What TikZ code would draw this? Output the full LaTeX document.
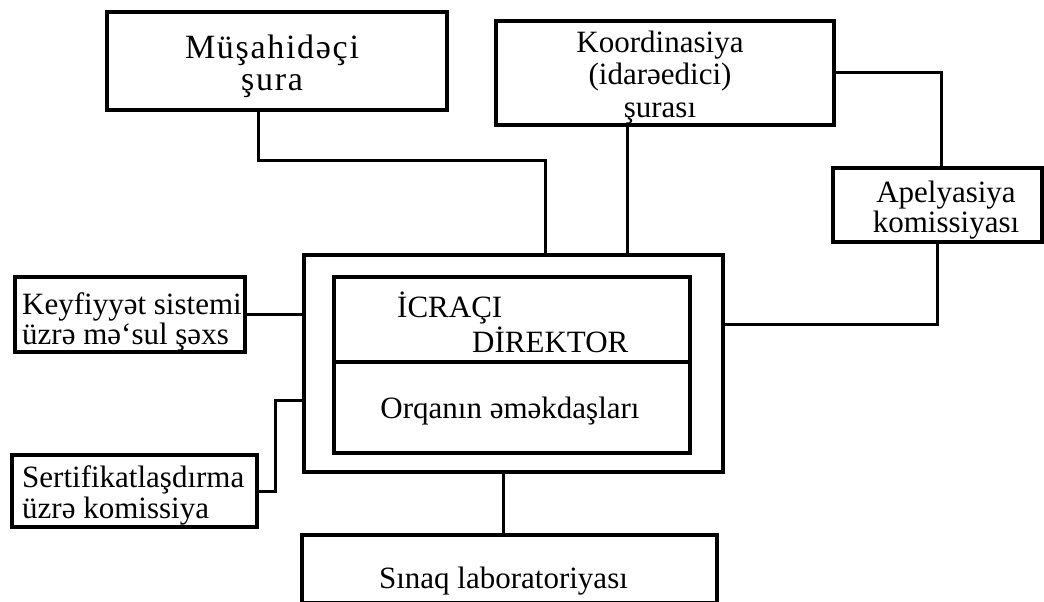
\documentclass[tikz,border=0pt]{standalone}
\usepackage{fontspec}
\setmainfont{Liberation Serif}
\begin{document}
\begin{tikzpicture}[x=1pt,y=-1pt,
  box/.style={draw,line width=3.2pt,rectangle,inner sep=0pt,outer sep=0pt},
  outerbox/.style={draw,line width=4.2pt,rectangle,inner sep=0pt,outer sep=0pt},
  conn/.style={line width=3pt,line join=miter},
  txt/.style={inner sep=0pt,font=\fontsize{31}{31.5}\selectfont},
  ctxt/.style={txt,align=center},
  ltxt/.style={txt,align=left,anchor=west}]
\useasboundingbox (0,0) rectangle (1044,602);
% boxes
\node[box,minimum width=340pt,minimum height=98pt] (mus) at (277,61) {};
\node[box,minimum width=338pt,minimum height=104pt] (koor) at (665,73) {};
\node[box,minimum width=209pt,minimum height=74pt] (apel) at (937.5,205) {};
\node[box,minimum width=230pt,minimum height=75pt] (key) at (130,314.5) {};
\node[box,minimum width=245pt,minimum height=72pt] (sert) at (134.5,491) {};
\node[outerbox,minimum width=419pt,minimum height=217pt] (outer) at (513.5,363.5) {};
\node[box,minimum width=356pt,minimum height=85pt] (icr) at (512,319.5) {};
\node[box,minimum width=356pt,minimum height=91pt] (orq) at (512,407.5) {};
\node[box,minimum width=415pt,minimum height=68pt] (sinaq) at (509.5,569) {};
% texts
\node[ctxt,font=\fontsize{34}{32}\selectfont\addfontfeatures{LetterSpace=5}] (musT) at (272,66) {Müşahidəçi\\şura};
\node[ctxt,font=\fontsize{31}{32.5}\selectfont] (koorT) at (660,77.5) {Koordinasiya\\(idarəedici)\\şurası};
\node[ctxt,font=\fontsize{31}{30}\selectfont] (apelT) at (946,210) {Apelyasiya\\komissiyası};
\node[ltxt,font=\fontsize{31}{30}\selectfont] (keyT) at (22,322) {Keyfiyyət sistemi\\üzrə mə‘sul şəxs};
\node[ltxt] (sertT) at (22,495.5) {Sertifikatlaşdırma\\üzrə komissiya};
\node[txt,anchor=base west] (icrT1) at (397,317) {İCRAÇI};
\node[txt,anchor=base west] (icrT2) at (472,352) {DİREKTOR};
\node[txt,anchor=base] (orqT) at (510,418) {Orqanın əməkdaşları};
\node[txt,anchor=base] (sinaqT) at (503.5,588) {Sınaq laboratoriyası};
% bend coordinates
\coordinate (m1) at (258,160);
\coordinate (m2) at (545,0);
\coordinate (k1) at (627,0);
\coordinate (a1) at (941,0);
\coordinate (a2) at (937,324);
\coordinate (s1) at (275,400);
\coordinate (b1) at (503,0);
% connectors
\draw[conn] (mus.south -| m1) -- (m1) -| (outer.north -| m2);
\draw[conn] (koor.south -| k1) -- (outer.north -| k1);
\draw[conn] (koor.east) -| (apel.north -| a1);
\draw[conn] (apel.south -| a2) -- (a2) -- (outer.east |- a2);
\draw[conn] (key.east) -- (outer.west |- key.east);
\draw[conn] (sert.east) -| (s1) -- (outer.west |- s1);
\draw[conn] (outer.south -| b1) -- (sinaq.north -| b1);
\end{tikzpicture}
\end{document}
